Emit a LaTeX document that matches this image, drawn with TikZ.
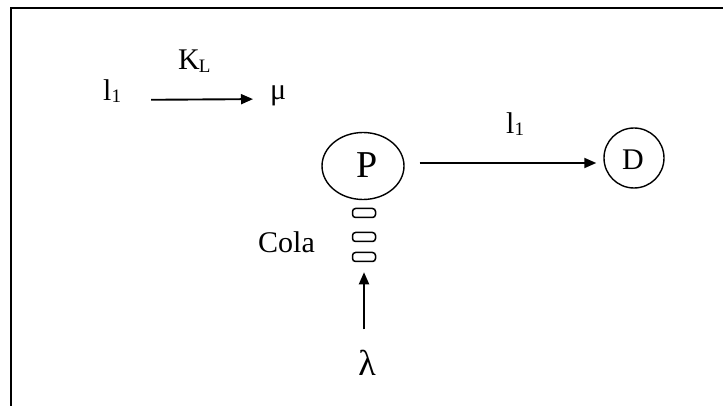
\documentclass[tikz,border=0pt]{standalone}
\usepackage{fontspec}
\setmainfont{Liberation Serif}
\usetikzlibrary{arrows.meta,shapes.geometric}
\begin{document}
\begin{tikzpicture}[x=1pt,y=-1pt,
  lbl/.style={inner sep=0pt, font=\fontsize{30}{32}\selectfont},
  conn/.style={line width=1.9pt, -{Triangle[length=12pt,width=10pt]}},
  stateP/.style={draw, line width=1.4pt, ellipse, inner sep=0pt, minimum width=82pt, minimum height=67pt},
  stateD/.style={draw, line width=1.4pt, circle, inner sep=0pt, minimum size=60pt},
  tailbox/.style={draw, line width=1.5pt, rounded corners=3pt, inner sep=0pt, minimum width=23pt, minimum height=9pt}]
\useasboundingbox (0,0) rectangle (723,406);
\draw[line width=2pt] (11,407) -- (11,8) -- (724,8);
% top left reaction
\node[lbl, anchor=base west] (la) at (103,101) {l\raisebox{-2pt}{\fontsize{19}{19}\selectfont 1}};
\node[lbl, anchor=base west] (kl) at (178,70) {K\kern-1pt\raisebox{-3pt}{\fontsize{19}{19}\selectfont L}};
\node[lbl, anchor=base west] (mu) at (270,100) {μ};
\draw[conn, shorten <=30pt, shorten >=17pt] ([yshift=1pt]la.base east) -- ([yshift=1pt]mu.base west);
% states
\node[stateP] (P) at (363,166) {};
\node[lbl, font=\fontsize{38}{40}\selectfont, anchor=base] at (367,178) {P};
\node[stateD] (D) at (634,158) {};
\node[lbl, anchor=base] at (633,170) {D};
\draw[conn, shorten <=15pt, shorten >=7pt] ([yshift=3pt]P.east) -- ([yshift=3pt]P.east -| D.west);
\node[lbl, anchor=base west] (lb) at (506,134) {l\raisebox{-2pt}{\fontsize{19}{19}\selectfont 1}};
% queue
\node[tailbox] (c1) at (364,213) {};
\node[tailbox] (c2) at (364,237) {};
\node[tailbox] (c3) at (364,257) {};
\node[lbl, anchor=base west] (cola) at (258,253) {Cola};
\node[lbl, font=\fontsize{36}{38}\selectfont, anchor=base] (lam) at (367,375) {λ};
\draw[conn, shorten <=20pt, shorten >=10pt] (c3.south |- lam.north) -- (c3.south);
\end{tikzpicture}
\end{document}
